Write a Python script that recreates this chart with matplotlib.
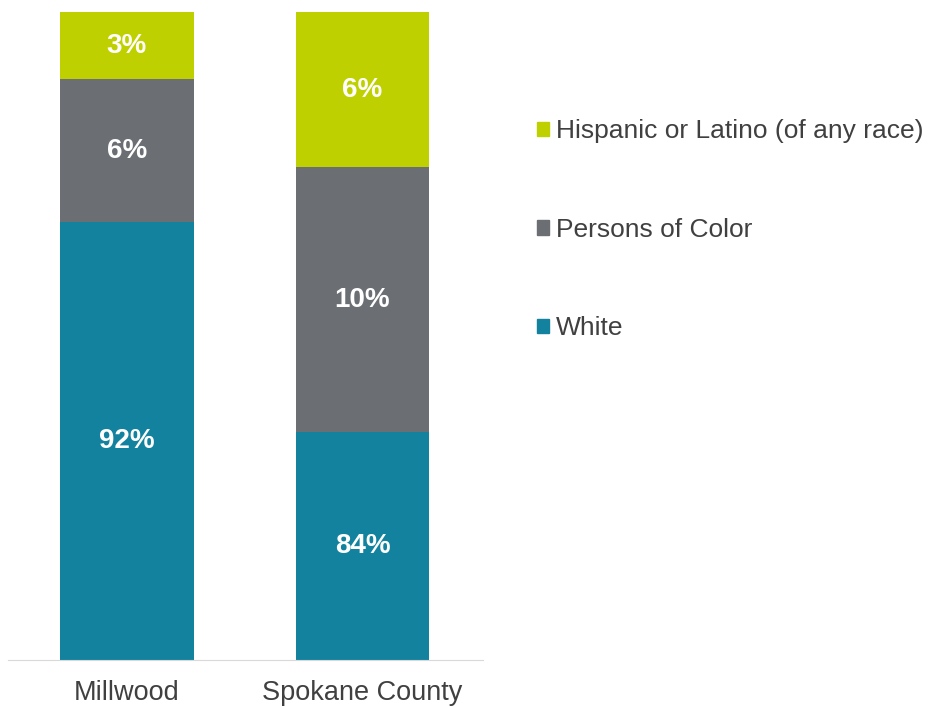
import matplotlib.pyplot as plt
from matplotlib.patches import Patch

plt.rcParams['font.family'] = ['Liberation Sans', 'DejaVu Sans']

places = ["Millwood", "Spokane County"]
white = [91.9, 83.8]
persons_of_color = [5.5, 10.2]
hispanic = [2.6, 6.0]
white_lbl = ["92%", "84%"]
poc_lbl = ["6%", "10%"]
hisp_lbl = ["3%", "6%"]

c_white = "#13829e"
c_poc = "#6b6f74"
c_hisp = "#bfd000"

fig = plt.figure(figsize=(9.29, 7.07), dpi=100)
ax = fig.add_axes([0.0086, 0.0665, 0.511, 0.9166])

x = [0, 1]
w = 0.568
ylo = 75
ax.bar(x, [v - ylo for v in white], w, bottom=ylo, color=c_white)
ax.bar(x, persons_of_color, w, bottom=white, color=c_poc)
tops = [a + b for a, b in zip(white, persons_of_color)]
ax.bar(x, hispanic, w, bottom=tops, color=c_hisp)

ax.set_ylim(ylo, 100)
ax.set_xlim(-0.505, 1.51)

# labels in the middle of each visible segment
for i in x:
    ax.text(i, (ylo + white[i]) / 2, white_lbl[i], ha="center", va="center",
            color="white", fontsize=20, fontweight="bold")
    ax.text(i, white[i] + persons_of_color[i] / 2, poc_lbl[i], ha="center", va="center",
            color="white", fontsize=20, fontweight="bold")
    top = min(tops[i] + hispanic[i], 100)
    ax.text(i, (tops[i] + top) / 2, hisp_lbl[i], ha="center", va="center",
            color="white", fontsize=20, fontweight="bold")

for s in ["top", "right", "left"]:
    ax.spines[s].set_visible(False)
ax.spines["bottom"].set_color("#d9d9d9")
ax.set_yticks([])
ax.set_xticks(x)
ax.set_xticklabels(places, fontsize=19.5, color="#404040")
ax.tick_params(axis="x", length=0, pad=14.5)

handles = [Patch(color=c_hisp), Patch(color=c_poc), Patch(color=c_white)]
labels = ["Hispanic or Latino (of any race)", "Persons of Color", "White"]
fig.legend(handles, labels, loc="upper left", bbox_to_anchor=(0.5777, 0.831),
           frameon=False, fontsize=19, labelcolor="#404040",
           handlelength=0.47, handleheight=0.47, handletextpad=0.27,
           labelspacing=2.82, borderpad=0, borderaxespad=0)

fig.savefig("out.png", dpi=100)
